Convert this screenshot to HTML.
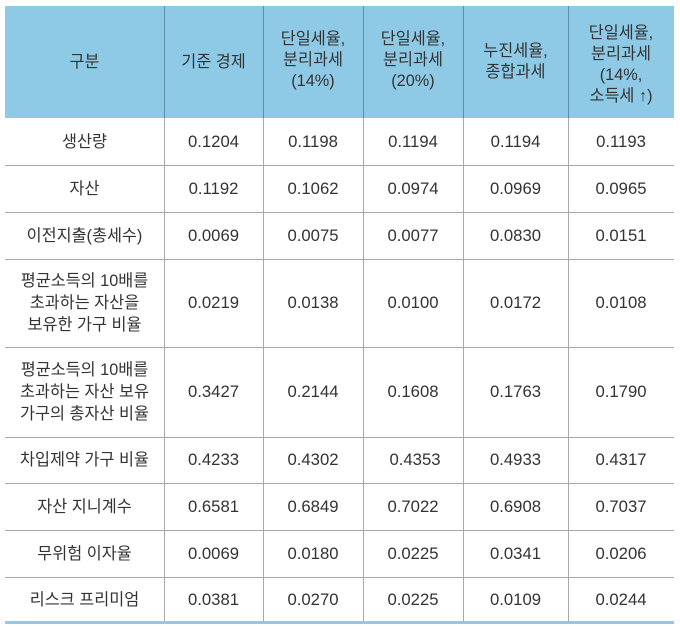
<!DOCTYPE html>
<html>
<head>
<meta charset="utf-8">
<style>
html,body{margin:0;padding:0;background:#fff;}
body{width:680px;height:629px;position:relative;overflow:hidden;font-family:"Liberation Sans","Noto Sans CJK KR",sans-serif;color:#333;font-size:16.3px;}
.hdr{position:absolute;left:5px;top:6px;width:669px;height:112px;background:#8ecae6;}
.c{position:absolute;display:flex;align-items:center;justify-content:center;text-align:center;line-height:22px;box-sizing:border-box;}
.h{line-height:21px;}
.n{font-size:16.7px;}
.hl{position:absolute;left:5px;width:669px;height:1.5px;background:#a9a9a9;}
.vl{position:absolute;width:1.5px;background:#a9a9a9;top:118px;height:504px;}
.vh{position:absolute;width:1.5px;background:#5f8ea3;top:6px;height:112px;}
.bot{position:absolute;left:5px;top:621px;width:669px;height:2.5px;background:#8ecae6;}
</style>
</head>
<body>
<div class="hdr"></div>
<!-- vertical lines -->
<div class="vh" style="left:163.5px"></div>
<div class="vh" style="left:262.5px"></div>
<div class="vh" style="left:362.5px"></div>
<div class="vh" style="left:462.5px"></div>
<div class="vh" style="left:567.5px"></div>
<div class="vl" style="left:163.5px"></div>
<div class="vl" style="left:262.5px"></div>
<div class="vl" style="left:362.5px"></div>
<div class="vl" style="left:462.5px"></div>
<div class="vl" style="left:567.5px"></div>
<!-- horizontal lines -->
<div class="hl" style="top:164.5px"></div>
<div class="hl" style="top:211.5px"></div>
<div class="hl" style="top:258.5px"></div>
<div class="hl" style="top:346.5px"></div>
<div class="hl" style="top:436.5px"></div>
<div class="hl" style="top:482.5px"></div>
<div class="hl" style="top:529.5px"></div>
<div class="hl" style="top:576.5px"></div>
<div class="bot"></div>

<!-- header -->
<div class="c h" style="left:5px;top:6px;width:159px;height:112px">구분</div>
<div class="c h" style="left:164px;top:6px;width:99px;height:112px">기준 경제</div>
<div class="c h" style="left:263px;top:4px;width:100px;height:112px">단일세율,<br>분리과세<br>(14%)</div>
<div class="c h" style="left:363px;top:4px;width:100px;height:112px">단일세율,<br>분리과세<br>(20%)</div>
<div class="c h" style="left:463px;top:6px;width:105px;height:112px">누진세율,<br>종합과세</div>
<div class="c h" style="left:568px;top:9px;width:106px;height:112px">단일세율,<br>분리과세<br>(14%,<br>소득세 ↑)</div>

<!-- row 1 -->
<div class="c" style="left:5px;top:118px;width:159px;height:47px">생산량</div>
<div class="c n" style="left:164px;top:118px;width:99px;height:47px">0.1204</div>
<div class="c n" style="left:263px;top:118px;width:100px;height:47px">0.1198</div>
<div class="c n" style="left:363px;top:118px;width:100px;height:47px">0.1194</div>
<div class="c n" style="left:463px;top:118px;width:105px;height:47px">0.1194</div>
<div class="c n" style="left:568px;top:118px;width:106px;height:47px">0.1193</div>
<!-- row 2 -->
<div class="c" style="left:5px;top:165px;width:159px;height:47px">자산</div>
<div class="c n" style="left:164px;top:165px;width:99px;height:47px">0.1192</div>
<div class="c n" style="left:263px;top:165px;width:100px;height:47px">0.1062</div>
<div class="c n" style="left:363px;top:165px;width:100px;height:47px">0.0974</div>
<div class="c n" style="left:463px;top:165px;width:105px;height:47px">0.0969</div>
<div class="c n" style="left:568px;top:165px;width:106px;height:47px">0.0965</div>
<!-- row 3 -->
<div class="c" style="left:5px;top:212px;width:159px;height:47px">이전지출(총세수)</div>
<div class="c n" style="left:164px;top:212px;width:99px;height:47px">0.0069</div>
<div class="c n" style="left:263px;top:212px;width:100px;height:47px">0.0075</div>
<div class="c n" style="left:363px;top:212px;width:100px;height:47px">0.0077</div>
<div class="c n" style="left:463px;top:212px;width:105px;height:47px">0.0830</div>
<div class="c n" style="left:568px;top:212px;width:106px;height:47px">0.0151</div>
<!-- row 4 -->
<div class="c" style="left:5px;top:259px;width:159px;height:88px">평균소득의 10배를<br>초과하는 자산을<br>보유한 가구 비율</div>
<div class="c n" style="left:164px;top:259px;width:99px;height:88px">0.0219</div>
<div class="c n" style="left:263px;top:259px;width:100px;height:88px">0.0138</div>
<div class="c n" style="left:363px;top:259px;width:100px;height:88px">0.0100</div>
<div class="c n" style="left:463px;top:259px;width:105px;height:88px">0.0172</div>
<div class="c n" style="left:568px;top:259px;width:106px;height:88px">0.0108</div>
<!-- row 5 -->
<div class="c" style="left:5px;top:347px;width:159px;height:90px">평균소득의 10배를<br>초과하는 자산 보유<br>가구의 총자산 비율</div>
<div class="c n" style="left:164px;top:347px;width:99px;height:90px">0.3427</div>
<div class="c n" style="left:263px;top:347px;width:100px;height:90px">0.2144</div>
<div class="c n" style="left:363px;top:347px;width:100px;height:90px">0.1608</div>
<div class="c n" style="left:463px;top:347px;width:105px;height:90px">0.1763</div>
<div class="c n" style="left:568px;top:347px;width:106px;height:90px">0.1790</div>
<!-- row 6 -->
<div class="c" style="left:5px;top:437px;width:159px;height:46px">차입제약 가구 비율</div>
<div class="c n" style="left:164px;top:437px;width:99px;height:46px">0.4233</div>
<div class="c n" style="left:263px;top:437px;width:100px;height:46px">0.4302</div>
<div class="c n" style="left:365px;top:437px;width:100px;height:46px">0.4353</div>
<div class="c n" style="left:463px;top:437px;width:105px;height:46px">0.4933</div>
<div class="c n" style="left:568px;top:437px;width:106px;height:46px">0.4317</div>
<!-- row 7 -->
<div class="c" style="left:5px;top:483px;width:159px;height:47px">자산 지니계수</div>
<div class="c n" style="left:164px;top:483px;width:99px;height:47px">0.6581</div>
<div class="c n" style="left:263px;top:483px;width:100px;height:47px">0.6849</div>
<div class="c n" style="left:363px;top:483px;width:100px;height:47px">0.7022</div>
<div class="c n" style="left:463px;top:483px;width:105px;height:47px">0.6908</div>
<div class="c n" style="left:568px;top:483px;width:106px;height:47px">0.7037</div>
<!-- row 8 -->
<div class="c" style="left:5px;top:530px;width:159px;height:47px">무위험 이자율</div>
<div class="c n" style="left:164px;top:530px;width:99px;height:47px">0.0069</div>
<div class="c n" style="left:263px;top:530px;width:100px;height:47px">0.0180</div>
<div class="c n" style="left:363px;top:530px;width:100px;height:47px">0.0225</div>
<div class="c n" style="left:463px;top:530px;width:105px;height:47px">0.0341</div>
<div class="c n" style="left:568px;top:530px;width:106px;height:47px">0.0206</div>
<!-- row 9 -->
<div class="c" style="left:5px;top:577px;width:159px;height:45px">리스크 프리미엄</div>
<div class="c n" style="left:164px;top:577px;width:99px;height:45px">0.0381</div>
<div class="c n" style="left:263px;top:577px;width:100px;height:45px">0.0270</div>
<div class="c n" style="left:363px;top:577px;width:100px;height:45px">0.0225</div>
<div class="c n" style="left:463px;top:577px;width:105px;height:45px">0.0109</div>
<div class="c n" style="left:568px;top:577px;width:106px;height:45px">0.0244</div>
</body>
</html>
